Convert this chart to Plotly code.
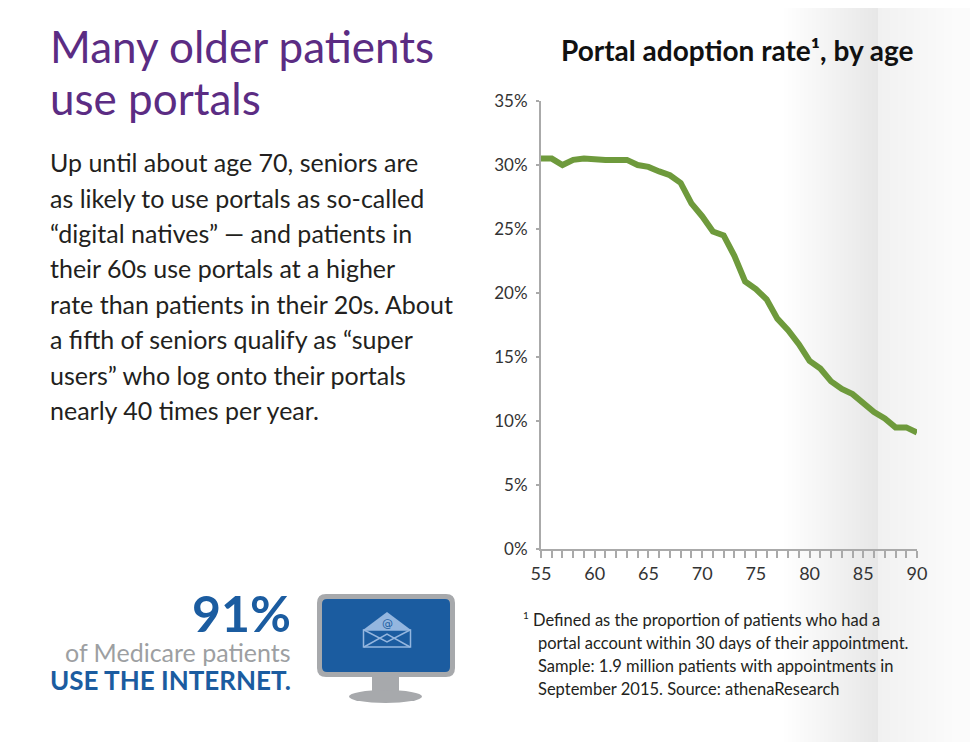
import plotly.graph_objects as go

# portal adoption rate (%) by patient age
ages = [55, 56, 57, 58, 59, 60, 61, 62, 63, 64, 65, 66, 67, 68, 69, 70, 71, 72,
        73, 74, 75, 76, 77, 78, 79, 80, 81, 82, 83, 84, 85, 86, 87, 88, 89, 90]
rates = [30.5, 30.5, 30.0, 30.4, 30.5, 30.4, 30.4, 30.4, 30.4, 30.0, 29.85, 29.5,
         29.2, 28.6, 27.0, 26.0, 24.8, 24.5, 22.9, 20.9, 20.3, 19.5, 18.0, 17.1,
         16.0, 14.7, 14.1, 13.1, 12.5, 12.1, 11.4, 10.7, 10.2, 9.5, 9.5, 9.1]

y_ticks = [0, 5, 10, 15, 20, 25, 30, 35]
y_labels = ["0%", "5%", "10%", "15%", "20%", "25%", "30%", "35%"]
x_ticks = [55, 60, 65, 70, 75, 80, 85, 90]

title_lines = ["Many older patients", "use portals"]
body_lines = [
    "Up until about age 70, seniors are",
    "as likely to use portals as so-called",
    "\u201cdigital natives\u201d \u2014 and patients in",
    "their 60s use portals at a higher",
    "rate than patients in their 20s. About",
    "a fifth of seniors qualify as \u201csuper",
    "users\u201d who log onto their portals",
    "nearly 40 times per year.",
]
note_lines = [
    "Defined as the proportion of patients who had a",
    "portal account within 30 days of their appointment.",
    "Sample: 1.9 million patients with appointments in",
    "September 2015. Source: athenaResearch",
]

W, H = 978, 742
OFF = 8  # page body margin
L, R, T, B = 541, 917, 101, 549  # plot area in window pixels
FONT = "Lato"
PURPLE = "#5b2c83"
BLUE = "#1b5ca0"
GREEN = "#6e9a3c"
DARK = "#231f20"


def px(x):
    return (x - L) / (R - L)


def py(y):
    return (B - y) / (B - T)


annotations = []


def text(s, x, base, size, color, xanchor="left"):
    # place by baseline (Lato metrics)
    annotations.append(dict(
        text=s, xref="paper", yref="paper", x=px(x), y=py(base - 0.39 * size),
        xanchor=xanchor, yanchor="middle", showarrow=False,
        font=dict(family=FONT, size=size, color=color)))


for i, s in enumerate(title_lines):
    text(s, 48, 63 + 52 * i, 44, PURPLE)
for i, s in enumerate(body_lines):
    text(s, 48, 172 + 35.4 * i, 25, DARK)

text("<b>Portal adoption rate\u00b9, by age</b>", 916, 61, 28, "#111111", "right")

text("<b>91%</b>", 293, 632, 50, BLUE, "right")
text("of Medicare patients", 293, 662, 25, "#9d9fa2", "right")
text("<b>USE THE INTERNET.</b>", 293, 690, 26, BLUE, "right")

text("1", 521, 619, 10, DARK)
for i, s in enumerate(note_lines):
    text(s, 531 if i == 0 else 536, 626 + 23.3 * i, 16.5, DARK)

annotations.append(dict(text="@", xref="paper", yref="paper", x=px(387), y=py(623),
                        xanchor="center", yanchor="middle", showarrow=False,
                        font=dict(family="DejaVu Sans", size=11, color=BLUE)))

shapes = []

# soft grey fold on the right side of the page
for x0 in range(780, 980, 2):
    if x0 < 877:
        g = 255 - (x0 - 780) / (877 - 780) * 24
    elif x0 < 955:
        g = 241 + (x0 - 877) / (955 - 877) * 10
    else:
        g = 251
    g = int(round(g))
    shapes.append(dict(type="rect", xref="paper", yref="paper", layer="below",
                       x0=px(x0), x1=px(x0 + 2.2), y0=py(750), y1=py(0),
                       line=dict(width=0), fillcolor=f"rgb({g},{g},{g})"))


def rounded(x0, y0, x1, y1, r):
    return (f"M {px(x0 + r)},{py(y0)} L {px(x1 - r)},{py(y0)} "
            f"Q {px(x1)},{py(y0)} {px(x1)},{py(y0 + r)} L {px(x1)},{py(y1 - r)} "
            f"Q {px(x1)},{py(y1)} {px(x1 - r)},{py(y1)} L {px(x0 + r)},{py(y1)} "
            f"Q {px(x0)},{py(y1)} {px(x0)},{py(y1 - r)} L {px(x0)},{py(y0 + r)} "
            f"Q {px(x0)},{py(y0)} {px(x0 + r)},{py(y0)} Z")


GREY = "#a7a9ac"
LIGHT = "#94b6df"
# monitor icon
shapes.append(dict(type="rect", xref="paper", yref="paper", x0=px(372), x1=px(399),
                   y0=py(694), y1=py(676), fillcolor=GREY, line=dict(width=0)))
shapes.append(dict(type="circle", xref="paper", yref="paper", x0=px(349), x1=px(422),
                   y0=py(703), y1=py(690), fillcolor=GREY, line=dict(width=0)))
shapes.append(dict(type="path", xref="paper", yref="paper",
                   path=rounded(317, 594, 455, 677, 9), fillcolor=GREY, line=dict(width=0)))
shapes.append(dict(type="path", xref="paper", yref="paper",
                   path=rounded(322, 599, 450, 672, 5), fillcolor=BLUE, line=dict(width=0)))
# envelope
shapes.append(dict(type="path", xref="paper", yref="paper",
                   path=f"M {px(363)},{py(630)} L {px(387)},{py(612)} L {px(411)},{py(630)} Z",
                   fillcolor=LIGHT, line=dict(width=0)))
shapes.append(dict(type="rect", xref="paper", yref="paper", x0=px(363.5), x1=px(410.5),
                   y0=py(647), y1=py(630), line=dict(color=LIGHT, width=1.5)))
shapes.append(dict(type="path", xref="paper", yref="paper",
                   path=(f"M {px(364)},{py(647)} L {px(387)},{py(634)} L {px(410)},{py(647)} "
                         f"M {px(364)},{py(630)} L {px(387)},{py(642)} L {px(410)},{py(630)}"),
                   line=dict(color=LIGHT, width=1.5)))

fig = go.Figure()
fig.add_trace(go.Scatter(x=ages, y=rates, mode="lines",
                         line=dict(color=GREEN, width=6), hoverinfo="x+y"))

fig.update_layout(
    width=W - OFF, height=H - OFF,
    margin=dict(l=L - OFF, r=W - R, t=T - OFF, b=H - B, pad=0),
    paper_bgcolor="white", plot_bgcolor="rgba(0,0,0,0)",
    showlegend=False,
    font=dict(family=FONT, color="#333333"),
    annotations=annotations, shapes=shapes,
)
fig.update_xaxes(range=[55, 90], tickvals=x_ticks, showgrid=False, zeroline=False,
                 showline=True, linecolor="#aaaaaa", linewidth=2,
                 ticks="outside", ticklen=7, tickcolor="#aaaaaa", tickwidth=1.5,
                 minor=dict(dtick=1, ticks="outside", ticklen=7, tickcolor="#aaaaaa", tickwidth=1.5),
                 tickfont=dict(size=18, color="#333333"))
fig.update_yaxes(range=[0, 35], tickvals=y_ticks, ticktext=y_labels, showgrid=False, zeroline=False,
                 showline=True, linecolor="#aaaaaa", linewidth=2,
                 ticks="outside", ticklen=3, tickcolor="#aaaaaa", tickwidth=1.5,
                 ticklabelstandoff=5, tickfont=dict(size=17, color="#333333"))

fig.write_html("out.html")
